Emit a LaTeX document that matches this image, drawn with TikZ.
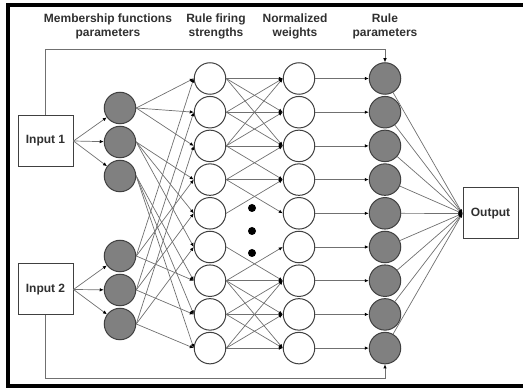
\documentclass[tikz,border=0pt]{standalone}
\usepackage{fontspec}
\setmainfont{Liberation Sans}
\usetikzlibrary{arrows.meta}

\begin{document}
\begin{tikzpicture}[x=1pt,y=-1pt,line cap=rect,
  neuron/.style={circle, draw=custcol_40_40_40, line width=1.0pt, minimum size=31.5pt, inner sep=0},
  grayneuron/.style={neuron, fill=custcol_80_80_80},
  whiteneuron/.style={neuron, fill=custcol_ff_ff_ff},
  iobox/.style={draw=custcol_40_40_40, line width=1.0pt, minimum width=55pt, minimum height=51pt, inner sep=0, font=\fontsize{12pt}{12pt}\bfseries\selectfont, text=custcol_30_30_30},
  header/.style={align=center, inner sep=0, font=\fontsize{12pt}{14pt}\bfseries\selectfont, text=custcol_30_30_30},
  wire/.style={draw=custcol_70_70_70, line width=0.7pt, -{Latex[length=4pt,width=3.5pt,color=custcol_0_0_0]}},
  dotnode/.style={circle, fill=custcol_0_0_0, minimum size=8pt, inner sep=0}]
\useasboundingbox (0,0) rectangle (523,390);
\definecolor{custcol_0_0_0}{RGB}{0, 0, 0}
\definecolor{custcol_30_30_30}{RGB}{48, 48, 48}
\definecolor{custcol_40_40_40}{RGB}{64, 64, 64}
\definecolor{custcol_70_70_70}{RGB}{112, 112, 112}
\definecolor{custcol_80_80_80}{RGB}{128, 128, 128}
\definecolor{custcol_ff_ff_ff}{RGB}{255, 255, 255}
\draw [line width=4.0pt, custcol_0_0_0 ]  (523.0,5.5) -- (8.0,5.5) -- (8.0,386.0) -- (523.0,386.0) ;
% column titles
\node[header] (hdmf) at (108.0,26.0) {Membership functions\\parameters};
\node[header] (hdrule) at (216.0,26.0) {Rule firing\\strengths};
\node[header] (hdnorm) at (295.0,26.0) {Normalized\\weights};
\node[header] (hdpar) at (385.0,26.0) {Rule\\parameters};
\node[iobox] (in1) at (45.5,141.0) {Input 1};
\node[iobox] (in2) at (45.5,289.5) {Input 2};
\node[iobox] (out) at (490.5,213.5) {Output};
\foreach \i/\y in {1/108.0,2/142.0,3/176.0} \node[grayneuron] (mfA\i) at (120.0,\y) {};
\foreach \i/\y in {1/256.0,2/290.0,3/324.0} \node[grayneuron] (mfB\i) at (120.0,\y) {};
\foreach \k in {1,...,9} {
  \pgfmathsetmacro\yy{78.5+33.7*(\k-1)}
  \node[whiteneuron] (rule\k) at (210.0,\yy) {};
  \node[whiteneuron] (norm\k) at (299.0,\yy) {};
  \node[grayneuron] (par\k) at (385.0,\yy) {};
}
\node[dotnode] (dot1) at (252.0,208.0) {};
\node[dotnode] (dot2) at (252.0,231.0) {};
\node[dotnode] (dot3) at (252.0,253.0) {};
\coordinate (topline) at (0,49.0);
\coordinate (botline) at (0,378.0);
\foreach \i in {1,2,3} {
  \draw[wire] (in1.east) -- (mfA\i);
  \draw[wire] (in2.east) -- (mfB\i);
}
\foreach \a in {1,2,3} \foreach \b in {1,2,3} {
  \pgfmathtruncatemacro\k{3*(\a-1)+\b}
  \draw[wire] (mfA\a.east) -- (rule\k.west);
  \draw[wire] (mfB\b.east) -- (rule\k.west);
}
\foreach \i/\j in {1/1,1/2,1/3,2/1,2/2,2/3,3/1,3/2,3/3,3/4,4/3,4/4,4/5,5/4,6/7,7/6,
                   7/7,7/8,7/9,8/7,8/8,8/9,9/7,9/8,9/9}
  \draw[wire] (rule\i.east) -- (norm\j.west);
\foreach \k in {1,...,9} {
  \draw[wire] (norm\k.east) -- (par\k.west);
  \draw[wire] (par\k) -- (out.west);
}
\draw[wire] (in1.north) -- (in1.north |- topline) -| (par1.north);
\draw[wire] (in2.south) -- (in2.south |- botline) -| (par9.south);
\end{tikzpicture}
\end{document}
